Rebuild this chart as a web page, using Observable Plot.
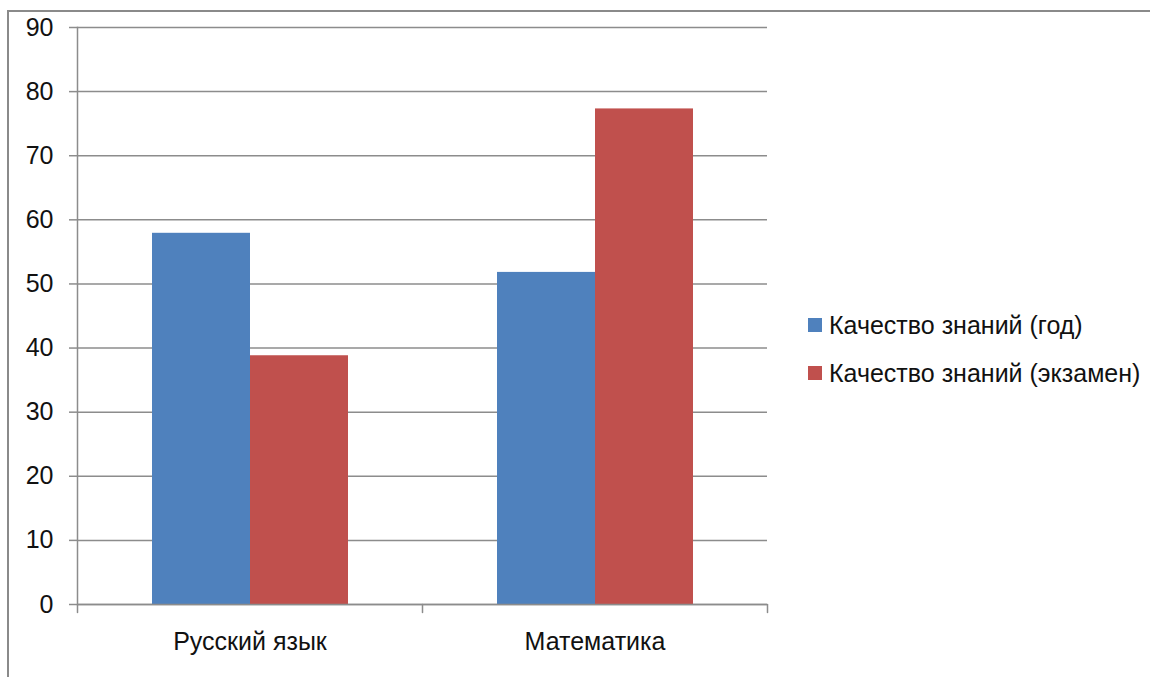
<!DOCTYPE html>
<html>
<head>
<meta charset="utf-8">
<script src="https://cdn.jsdelivr.net/npm/d3@7"></script>
<script src="https://cdn.jsdelivr.net/npm/@observablehq/plot@0.6"></script>
<style>
  html, body { margin: 0; padding: 0; background: #fff; width: 1150px; height: 677px; overflow: hidden; }
  body { font-family: "Liberation Sans", Arial, sans-serif; position: relative; }
  #frame { position: absolute; left: 7px; top: 10px; width: 1200px; height: 720px; border: 2px solid #8a8a8a; box-sizing: border-box; }
  #chart { position: absolute; left: 0; top: 0; }
  #legend { position: absolute; left: 808px; top: 308px; font-size: 25px; color: #111; }
  .row { display: flex; align-items: center; height: 34px; margin-bottom: 14px; white-space: nowrap; }
  .sw { width: 14px; height: 14px; margin-right: 7px; }
</style>
</head>
<body>
<div id="frame"></div>
<div id="chart"></div>
<div id="legend"></div>
<script>
const categories = ["Русский язык", "Математика"];
const series = ["Качество знаний (год)", "Качество знаний (экзамен)"];
const valuesYear = [57.9, 51.8];
const valuesExam = [38.8, 77.3];
const colors = ["#4F81BD", "#C0504D"];
const yTicks = [0, 10, 20, 30, 40, 50, 60, 70, 80, 90];

const rows = [];
categories.forEach((c, i) => {
  rows.push({category: c, series: series[0], value: valuesYear[i]});
  rows.push({category: c, series: series[1], value: valuesExam[i]});
});

const tickShape = { draw(context, l) { context.moveTo(0, 0); context.lineTo(0, -l); } };
const gray = "#8c8c8c";

const chart = Plot.plot({
  width: 1150,
  height: 677,
  marginLeft: 77,
  marginRight: 383,
  marginTop: 27,
  marginBottom: 73,
  style: { fontFamily: "Liberation Sans, Arial, sans-serif", fontSize: "25px", color: "#111", background: "transparent" },
  fx: { domain: categories, padding: 0, label: null },
  x: { domain: series, paddingInner: 0, paddingOuter: 0.76, axis: null },
  y: { domain: [0, 90], label: null },
  color: { domain: series, range: colors },
  marks: [
    Plot.gridY(yTicks, { stroke: gray, strokeOpacity: 1, strokeWidth: 1.5 }),
    Plot.barY(rows, { fx: "category", x: "series", y: "value", fill: "series" }),
    Plot.ruleY([0], { stroke: gray, strokeWidth: 1.5 }),
    Plot.frame({ anchor: "left", facetAnchor: "left", stroke: gray, strokeWidth: 1.5 }),
    Plot.axisY(yTicks, { tickSize: 8, tickPadding: 16, stroke: gray, strokeWidth: 1.5, fontSize: 25, label: null }),
    Plot.vector([0], { frameAnchor: "bottom-left", length: 8, rotate: 180, anchor: "start", shape: tickShape, stroke: gray, strokeWidth: 1.5 }),
    Plot.vector([0], { frameAnchor: "bottom-right", length: 8, rotate: 180, anchor: "start", shape: tickShape, stroke: gray, strokeWidth: 1.5, facetAnchor: "right" }),
    Plot.axisFx({ anchor: "bottom", tickSize: 0, tickPadding: 28, fontSize: 25, label: null })
  ]
});
document.getElementById("chart").appendChild(chart);

const legend = document.getElementById("legend");
series.forEach((s, i) => {
  const row = document.createElement("div");
  row.className = "row";
  const sw = document.createElement("div");
  sw.className = "sw";
  sw.style.background = colors[i];
  const t = document.createElement("span");
  t.textContent = s;
  row.appendChild(sw);
  row.appendChild(t);
  legend.appendChild(row);
});
</script>
</body>
</html>
